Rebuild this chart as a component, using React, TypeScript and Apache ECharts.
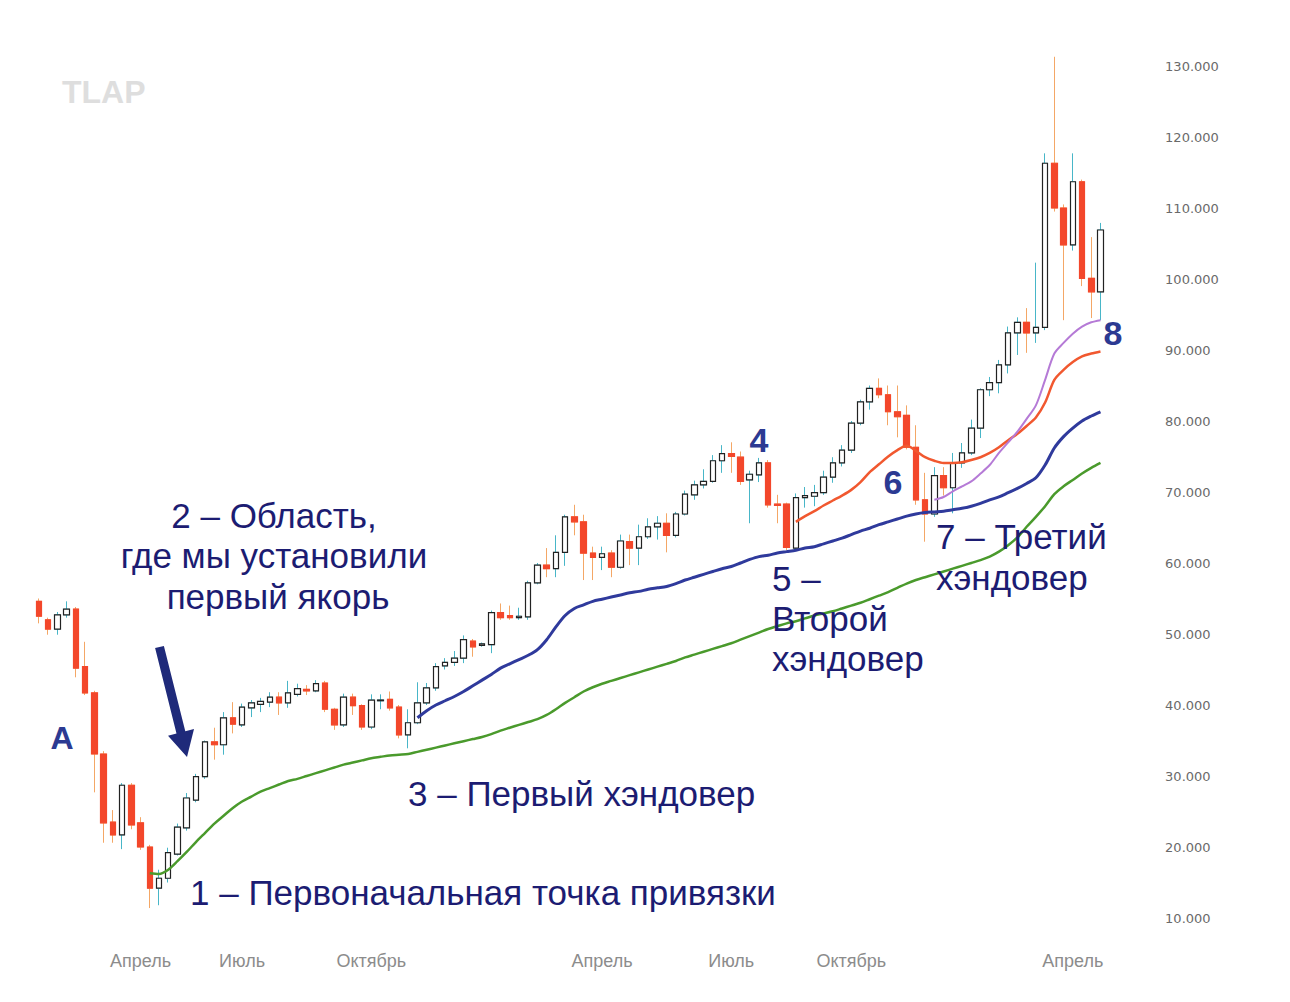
import React, { useEffect, useRef } from 'react';
import * as echarts from 'echarts';

// Weekly candles: open, close, low, high
const opens = [
  54.6, 52.0, 50.7, 52.7, 53.5, 45.4, 41.7, 33.1, 23.5, 21.7, 28.7, 23.4, 20.0, 14.2, 15.6, 19.0, 22.7, 26.6, 29.9, 34.8,
  34.4, 38.2, 37.2, 39.6, 40.1, 40.4, 41.1, 40.3, 41.5, 42.2, 42.0, 43.1, 39.4, 37.2, 41.1, 39.9, 36.9, 40.6, 40.8, 39.7,
  35.8, 37.5, 40.3, 42.4, 45.5, 46.0, 46.6, 49.0, 48.4, 48.5, 53.0, 52.6, 52.3, 52.4, 57.2, 59.7, 59.2, 61.5, 66.5, 65.8,
  61.4, 60.8, 61.4, 59.4, 63.0, 62.1, 63.7, 65.1, 65.6, 63.9, 66.9, 69.6, 71.0, 71.5, 74.4, 75.4, 74.9, 71.7, 72.4, 74.1,
  68.3, 68.3, 62.1, 69.2, 69.4, 69.9, 72.1, 74.1, 75.9, 79.7, 82.7, 84.6, 83.7, 81.3, 80.8, 76.3, 68.9, 66.9, 72.3, 70.6,
  74.1, 75.5, 79.0, 84.4, 85.4, 87.9, 92.4, 93.9, 92.4, 93.2, 116.3, 110.0, 104.8, 113.7, 100.1, 98.2
];
const closes = [
  52.5, 50.7, 52.7, 53.5, 45.2, 41.7, 33.1, 23.4, 21.7, 28.7, 23.1, 20.0, 14.2, 15.6, 19.2, 22.8, 26.9, 29.9, 34.8, 34.4,
  38.2, 37.3, 39.7, 40.3, 40.5, 41.1, 40.3, 41.7, 42.3, 42.0, 43.0, 39.4, 37.2, 41.1, 39.9, 36.9, 40.7, 40.7, 39.6, 35.8,
  37.5, 40.3, 42.4, 45.4, 46.0, 46.6, 49.2, 48.2, 48.6, 53.0, 52.3, 52.3, 52.5, 57.2, 59.7, 59.2, 61.5, 66.5, 65.8, 61.4,
  60.8, 61.3, 59.4, 63.1, 62.1, 63.7, 65.1, 65.6, 63.9, 66.9, 69.7, 71.0, 71.5, 74.4, 75.4, 75.0, 71.5, 72.5, 74.1, 68.2,
  68.1, 62.2, 69.2, 69.5, 69.9, 72.1, 74.1, 75.9, 79.7, 82.7, 84.6, 83.7, 81.3, 80.6, 76.3, 68.9, 66.9, 72.3, 70.6, 74.1,
  75.5, 79.0, 84.4, 85.4, 87.9, 92.4, 93.9, 92.4, 93.2, 116.3, 110.0, 104.8, 113.7, 100.1, 98.2, 106.9
];
const lows = [
  51.5, 49.9, 49.9, 52.3, 43.9, 41.4, 27.7, 20.6, 20.6, 19.7, 22.5, 19.6, 11.4, 11.8, 15.0, 18.8, 22.3, 26.3, 29.6, 32.3,
  33.0, 36.0, 36.9, 38.3, 39.0, 39.7, 38.6, 39.6, 41.2, 41.4, 41.8, 39.0, 36.5, 36.9, 38.6, 36.5, 36.6, 39.4, 39.2, 35.3,
  33.9, 37.3, 40.0, 42.0, 45.0, 45.5, 45.9, 46.8, 48.2, 47.3, 52.0, 52.0, 52.0, 52.0, 57.0, 58.0, 58.0, 59.6, 63.9, 57.6,
  57.6, 59.0, 58.0, 59.2, 59.7, 59.7, 63.4, 63.3, 61.5, 63.6, 66.7, 68.9, 70.5, 71.3, 72.7, 72.7, 71.0, 65.6, 71.4, 67.8,
  65.6, 61.8, 61.9, 67.8, 68.0, 69.6, 71.3, 73.6, 75.5, 79.4, 81.6, 83.2, 79.4, 77.7, 76.0, 68.2, 63.0, 66.5, 69.5, 67.0,
  73.4, 75.2, 77.6, 83.5, 83.9, 86.7, 89.3, 89.6, 91.0, 92.8, 109.5, 94.2, 104.0, 99.0, 94.5, 94.2
];
const highs = [
  55.0, 52.3, 53.1, 54.6, 53.8, 48.9, 42.0, 33.5, 25.2, 29.0, 29.0, 24.2, 20.3, 16.8, 19.9, 23.3, 27.6, 30.3, 35.0, 36.8,
  39.0, 40.4, 40.2, 40.7, 41.0, 41.8, 41.8, 43.4, 43.0, 42.8, 43.5, 43.4, 39.6, 41.6, 41.6, 40.1, 41.5, 41.5, 41.9, 40.0,
  39.4, 43.2, 43.1, 45.9, 46.6, 47.6, 49.8, 49.3, 48.8, 53.3, 54.3, 54.0, 53.7, 57.5, 60.0, 62.1, 63.9, 66.8, 68.2, 66.8,
  62.3, 62.3, 61.8, 64.0, 64.0, 65.4, 66.3, 66.6, 67.0, 67.2, 70.2, 71.6, 73.2, 75.2, 76.6, 77.0, 75.7, 73.0, 74.8, 74.5,
  69.6, 68.5, 69.8, 70.7, 71.0, 73.0, 74.9, 76.6, 80.0, 83.0, 85.0, 86.0, 85.0, 85.0, 82.2, 79.4, 72.7, 73.5, 73.5, 75.5,
  76.9, 80.2, 84.6, 86.2, 88.6, 93.3, 94.6, 95.9, 102.3, 117.7, 131.3, 110.5, 117.7, 114.0, 105.9, 107.9
];

// Anchored lines (first candle index + values)
const greenStart = 12;
const greenValues = [
  16.3, 16.2, 16.8, 18.0, 19.3, 20.7, 22.0, 23.3, 24.4, 25.5, 26.4, 27.1, 27.8, 28.3, 28.8, 29.3, 29.6, 30.0, 30.4, 30.8,
  31.2, 31.6, 31.9, 32.2, 32.5, 32.7, 32.9, 33.0, 33.1, 33.4, 33.7, 34.0, 34.3, 34.6, 34.9, 35.2, 35.5, 35.9, 36.4, 36.8,
  37.2, 37.6, 38.0, 38.6, 39.4, 40.3, 41.1, 41.9, 42.5, 43.0, 43.4, 43.8, 44.2, 44.6, 45.0, 45.4, 45.8, 46.2, 46.7, 47.1,
  47.5, 47.9, 48.3, 48.7, 49.2, 49.7, 50.2, 50.7, 51.1, 51.5, 51.8, 52.2, 52.6, 52.9, 53.2, 53.6, 54.0, 54.4, 54.9, 55.4,
  55.9, 56.5, 57.1, 57.6, 58.0, 58.4, 58.8, 59.2, 59.6, 60.0, 60.4, 60.9, 61.6, 62.5, 63.6, 65.1, 66.5, 68.0, 69.7, 70.8,
  71.7, 72.6, 73.4, 74.1
];
const blueStart = 41;
const blueValues = [
  38.2, 39.2, 40.0, 40.6, 41.2, 41.9, 42.7, 43.5, 44.3, 45.2, 45.8, 46.4, 47.0, 47.8, 49.2, 51.0, 52.6, 53.6, 54.1, 54.6,
  54.9, 55.2, 55.5, 55.8, 56.0, 56.3, 56.5, 56.7, 57.1, 57.6, 58.0, 58.4, 58.8, 59.2, 59.5, 60.0, 60.5, 60.9, 61.1, 61.4,
  61.6, 61.8, 62.1, 62.3, 62.7, 63.1, 63.5, 64.0, 64.5, 64.9, 65.4, 65.8, 66.2, 66.6, 66.9, 67.1, 67.2, 67.3, 67.5, 67.7,
  68.0, 68.4, 68.9, 69.3, 69.9, 70.5, 71.2, 72.0, 73.8, 76.2, 77.8, 79.0, 80.0, 80.7, 81.3
];
const redStart = 82;
const redValues = [
  65.8, 66.6, 67.3, 68.1, 68.8, 69.5, 70.3, 71.4, 72.8, 73.9, 75.0, 75.9, 76.5, 75.8, 74.9, 74.4, 74.1, 74.1, 74.2, 74.5,
  74.9, 75.5, 76.3, 77.3, 78.2, 79.3, 80.5, 82.6, 85.8, 87.2, 88.3, 89.1, 89.5, 89.8
];
const purpleStart = 97;
const purpleValues = [
  68.9, 69.3, 70.1, 70.8, 71.5, 72.6, 73.8, 75.5, 77.0, 78.5, 80.3, 82.2, 85.8, 89.5, 91.0, 92.3, 93.3, 93.9, 94.2
];

// Week dates for the category axis and the month tick labels
const firstWeek = Date.UTC(2020, 0, 20);
const categories: string[] = opens.map((_, i) =>
  new Date(firstWeek + i * 7 * 86400000).toISOString().slice(0, 10)
);
const tickIndices = [11, 22, 36, 61, 75, 88, 112];
const tickLabels = ['Апрель', 'Июль', 'Октябрь', 'Апрель', 'Июль', 'Октябрь', 'Апрель'];
const yTicks = { min: 10, max: 132, interval: 10 };

const padLine = (start: number, values: number[]) =>
  categories.map((_, i) => (i >= start && i - start < values.length ? values[i - start] : '-'));

const NAVY = '#1c1c72';
const NUM = '#2c3a92';
const FONT = 'Liberation Sans, Arial, sans-serif';

const textEl = (text: string, x: number, y: number, opts: any = {}) => ({
  type: 'text',
  x,
  y,
  z: 100,
  style: {
    text,
    fill: opts.fill || NAVY,
    font: `${opts.weight || 'normal'} ${opts.size || 35}px ${FONT}`,
    textAlign: opts.align || 'left',
    textVerticalAlign: 'middle',
  },
});

export default function App() {
  const ref = useRef<HTMLDivElement>(null);
  useEffect(() => {
    if (!ref.current) return;
    const chart = echarts.init(ref.current, undefined, { renderer: 'svg' });
    const wickData = opens.map((o, i) => [o, closes[i], lows[i], highs[i]]);
    const bodyData = opens.map((o, i) => [o, closes[i], Math.min(o, closes[i]), Math.max(o, closes[i])]);

    const option: any = {
      animation: false,
      backgroundColor: '#ffffff',
      grid: { left: 34.4, right: 184.9, top: 51.8, bottom: 84 },
      xAxis: {
        type: 'category',
        data: categories,
        boundaryGap: true,
        axisLine: { show: false },
        axisTick: { show: false },
        splitLine: { show: false },
        axisLabel: {
          interval: (i: number) => tickIndices.includes(i),
          formatter: (_v: string, i: number) => {
            const k = tickIndices.indexOf(i);
            return k >= 0 ? tickLabels[k] : '';
          },
          color: '#8c8c8c',
          fontSize: 18,
          fontFamily: FONT,
          margin: 34,
        },
      },
      yAxis: {
        type: 'value',
        position: 'right',
        min: yTicks.min,
        max: yTicks.max,
        interval: yTicks.interval,
        splitLine: { show: false },
        axisLine: { show: false },
        axisTick: { show: false },
        axisLabel: {
          formatter: (v: number) => v.toFixed(3),
          showMaxLabel: false,
          margin: 60,
          color: '#6a6a6a',
          fontSize: 13,
          fontFamily: 'DejaVu Sans',
        },
      },
      series: [
        {
          type: 'candlestick',
          data: wickData,
          barWidth: 6,
          z: 2,
          itemStyle: {
            color: 'rgba(0,0,0,0)',
            color0: 'rgba(0,0,0,0)',
            borderColor: '#48b6c8',
            borderColor0: '#f4a766',
            borderWidth: 1,
          },
        },
        {
          type: 'candlestick',
          data: bodyData,
          barWidth: 6,
          z: 3,
          itemStyle: {
            color: '#ffffff',
            color0: '#f3472b',
            borderColor: '#222222',
            borderColor0: '#f3472b',
            borderWidth: 1.2,
          },
        },
        {
          type: 'line',
          data: padLine(greenStart, greenValues),
          symbol: 'none',
          smooth: 0.3,
          z: 4,
          lineStyle: { color: '#4a9a2c', width: 2.5 },
        },
        {
          type: 'line',
          data: padLine(blueStart, blueValues),
          symbol: 'none',
          smooth: 0.3,
          z: 4,
          lineStyle: { color: '#2f3a9c', width: 3 },
        },
        {
          type: 'line',
          data: padLine(redStart, redValues),
          symbol: 'none',
          smooth: 0.3,
          z: 4,
          lineStyle: { color: '#f1582f', width: 2.5 },
        },
        {
          type: 'line',
          data: padLine(purpleStart, purpleValues),
          symbol: 'none',
          smooth: 0.3,
          z: 4,
          lineStyle: { color: '#b57ad6', width: 2 },
        },
      ],
      graphic: [
        textEl('TLAP', 62, 92, { fill: '#dedede', weight: 'bold', size: 32 }),
        textEl('A', 62, 738, { fill: NUM, weight: 'bold', size: 32, align: 'center' }),
        textEl('2 – Область,', 274, 515, { align: 'center' }),
        textEl('где мы установили', 274, 555, { align: 'center' }),
        textEl('первый якорь', 278, 596, { align: 'center' }),
        textEl('1 – Первоначальная точка привязки', 190, 892),
        textEl('3 – Первый хэндовер', 408, 793),
        textEl('4', 759, 440, { fill: NUM, weight: 'bold', size: 34, align: 'center' }),
        textEl('5 –', 772, 578),
        textEl('Второй', 772, 618),
        textEl('хэндовер', 772, 658),
        textEl('6', 893, 482, { fill: NUM, weight: 'bold', size: 34, align: 'center' }),
        textEl('7 – Третий', 936, 536),
        textEl('хэндовер', 936, 577),
        textEl('8', 1113, 333, { fill: NUM, weight: 'bold', size: 34, align: 'center' }),
        {
          type: 'polygon',
          z: 100,
          shape: {
            points: [
              [155.1, 648.1],
              [163.9, 645.9],
              [185.3, 731.3],
              [194.0, 729.0],
              [187.0, 757.0],
              [168.0, 735.8],
              [176.5, 733.5],
            ],
          },
          style: { fill: '#1f2a7a' },
        },
      ],
    };
    chart.setOption(option);
    return () => chart.dispose();
  }, []);

  return (
    <div
      ref={ref}
      style={{ position: 'absolute', left: 0, top: 0, width: 1290, height: 1002, background: '#fff' }}
    />
  );
}
